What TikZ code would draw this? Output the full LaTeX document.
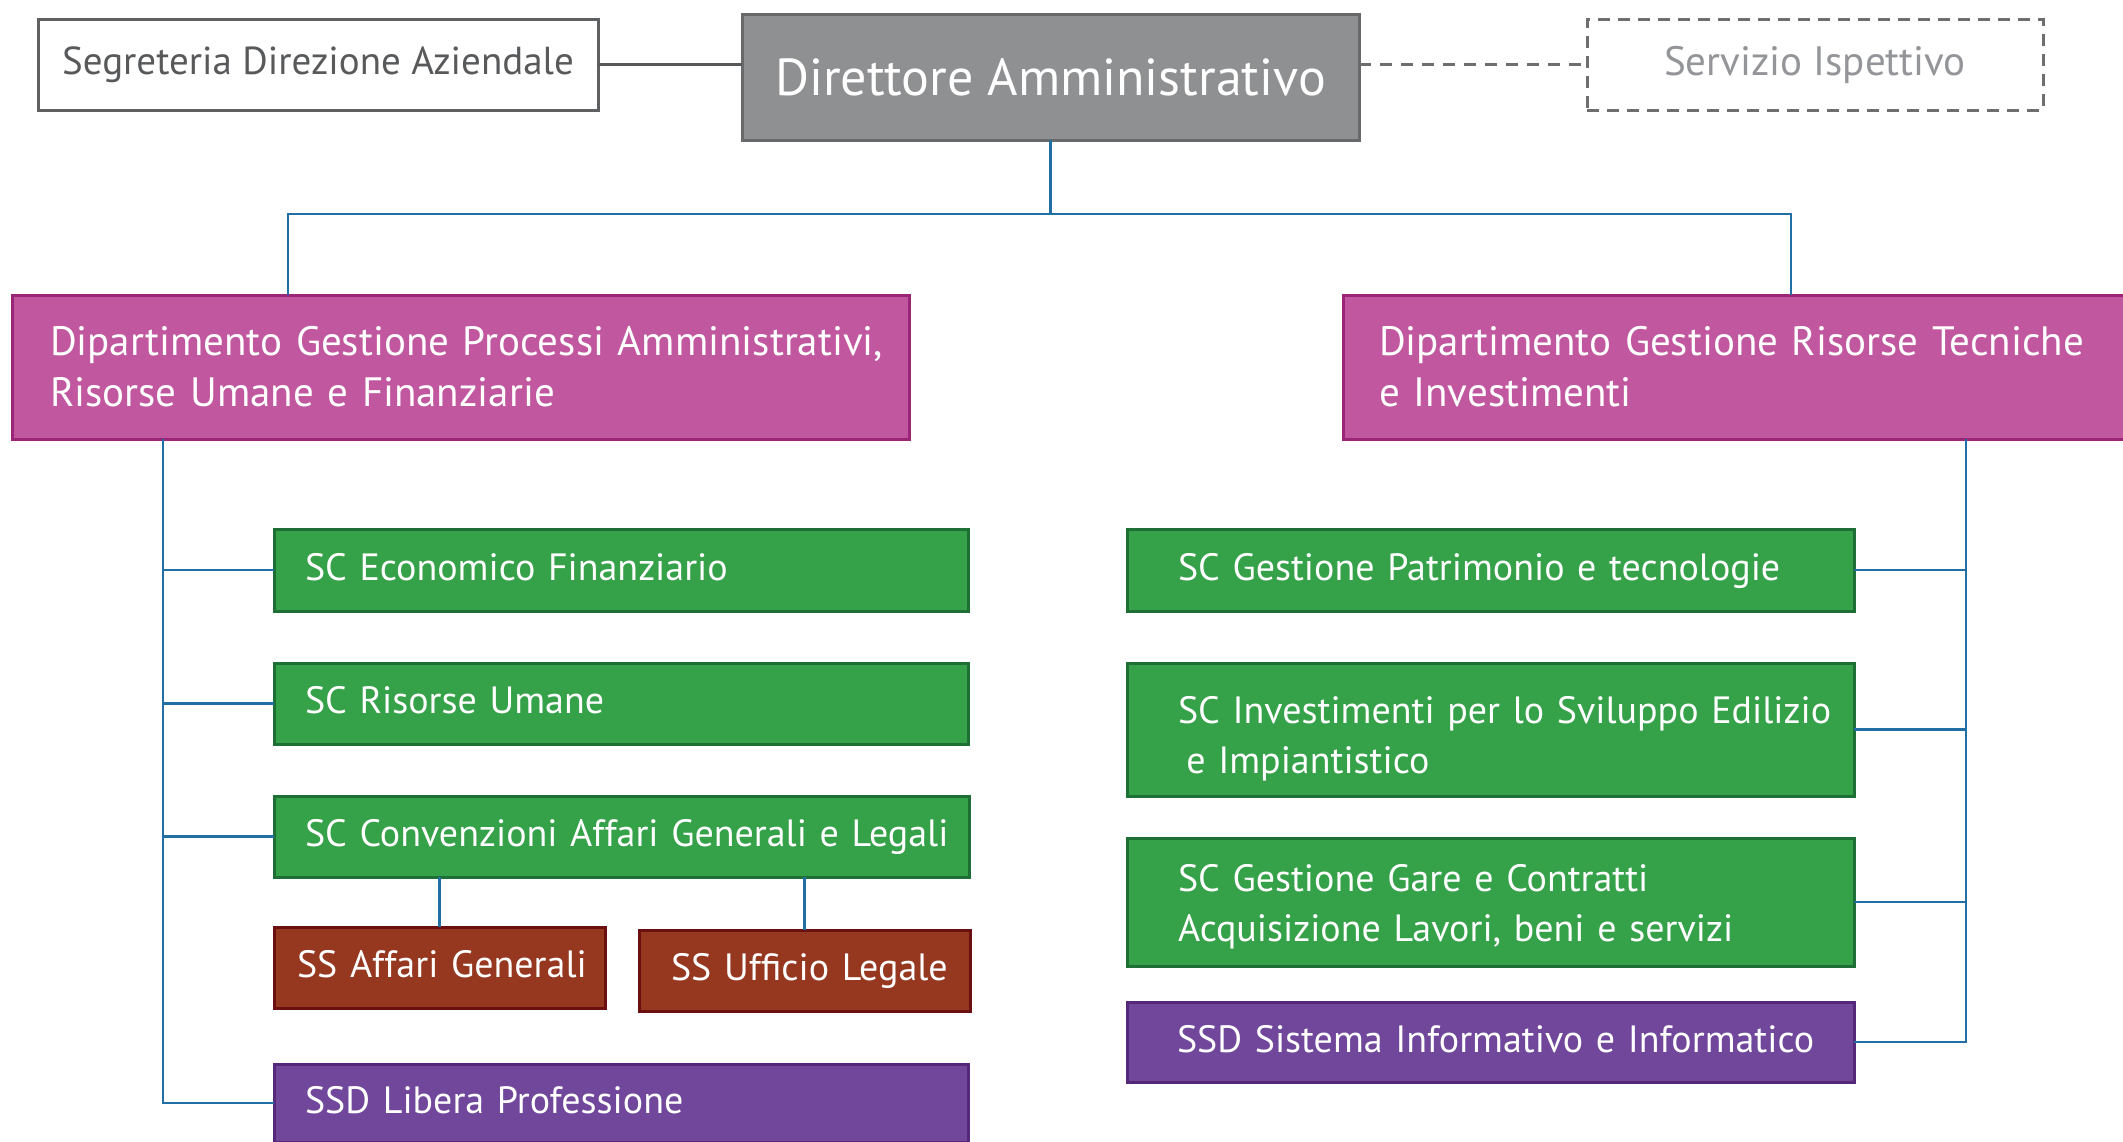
\documentclass[tikz,border=0pt]{standalone}
\usepackage{fontspec}
\setmainfont{PT Sans}
\definecolor{dirfill}{HTML}{8F9092}
\definecolor{dirborder}{HTML}{68696B}
\definecolor{segborder}{HTML}{5F6062}
\definecolor{segtext}{HTML}{58595B}
\definecolor{servborder}{HTML}{6D6E70}
\definecolor{servtext}{HTML}{939598}
\definecolor{deptfill}{HTML}{C0579F}
\definecolor{deptborder}{HTML}{9B2577}
\definecolor{greenfill}{HTML}{35A148}
\definecolor{greenborder}{HTML}{1E6F36}
\definecolor{brownfill}{HTML}{963720}
\definecolor{brownborder}{HTML}{6B1010}
\definecolor{purplefill}{HTML}{70479A}
\definecolor{purpleborder}{HTML}{55287A}
\definecolor{connblue}{HTML}{2270A3}
\definecolor{grayline}{HTML}{58595B}
\newcommand{\orgbox}[8]{%
  \pgfmathsetmacro\bw{#5-#3}\pgfmathsetmacro\bh{#6-#4}\pgfmathsetmacro\tw{\bw-4}%
  \node[#2, anchor=north west, minimum width=\bw pt, minimum height=\bh pt,
        inner xsep=2pt, inner ysep=0pt, text width=\tw pt, align=left] (#1) at (#3,#4)
        {\hspace*{#7pt}\begin{tabular}{@{}l@{}}#8\end{tabular}};%
}
\begin{document}
\begin{tikzpicture}[x=1pt,y=-1pt,
  base/.style={rectangle, line width=3pt, outer sep=0pt},
  bodytext/.style={font=\fontsize{38}{50}\selectfont, text=white},
  depttext/.style={font=\fontsize{41}{51}\selectfont, text=white},
  seg/.style={base, draw=segborder, fill=white, text=segtext, align=center, font=\fontsize{39}{46}\selectfont},
  dirbox/.style={base, draw=dirborder, fill=dirfill, text=white, align=center, font=\fontsize{52}{60}\selectfont},
  serv/.style={base, draw=servborder, dash pattern=on 12pt off 8pt, fill=white, text=servtext, align=center, font=\fontsize{41}{48}\selectfont},
  dept/.style={base, depttext, draw=deptborder, fill=deptfill},
  green/.style={base, bodytext, draw=greenborder, fill=greenfill},
  brown/.style={base, bodytext, draw=brownborder, fill=brownfill},
  purple/.style={base, bodytext, draw=purpleborder, fill=purplefill},
  conn/.style={draw=connblue, line width=2.6pt},
  grayconn/.style={draw=grayline, line width=3pt},
  dashconn/.style={draw=servborder, line width=3pt, dash pattern=on 12pt off 9pt}
]
\clip (0,0) rectangle (2123,1141);
\useasboundingbox (0,0) rectangle (2123,1141);
\fill[white] (0,0) rectangle (2123,1141);

% top row
\node[seg, anchor=north west, minimum width=560pt, minimum height=91pt, inner sep=0pt] (segr) at (38,19) {Segreteria Direzione Aziendale};
\node[dirbox, anchor=north west, minimum width=617pt, minimum height=126pt, inner sep=0pt] (dir) at (742,14) {Direttore Amministrativo};
\node[serv, anchor=north west, minimum width=456pt, minimum height=91pt, inner sep=0pt] (serv) at (1587,19) {Servizio Ispettivo};

% departments
\orgbox{dl}{dept}{12}{295}{909}{439}{36}{\rule{0pt}{44pt}Dipartimento Gestione Processi Amministrativi,\\Risorse Umane e Finanziarie}
\orgbox{dr}{dept}{1343}{295}{2160}{439}{34}{\rule{0pt}{44pt}Dipartimento Gestione Risorse Tecniche\\e Investimenti}

% left units
\orgbox{sce}{green}{274}{529}{968}{611}{29}{SC Economico Finanziario}
\orgbox{scr}{green}{274}{663}{968}{744}{29}{SC Risorse Umane}
\orgbox{scc}{green}{274}{796}{969}{877}{29}{SC Convenzioni Affari Generali e Legali}
\orgbox{ssa}{brown}{274}{927}{605}{1008}{21}{SS Affari Generali}
\orgbox{ssu}{brown}{639}{930}{970}{1011}{30}{SS Ufficio Legale}
\orgbox{ssdl}{purple}{274}{1064}{968}{1142}{29}{SSD Libera Professione}

% right units
\orgbox{scp}{green}{1127}{529}{1854}{611}{49}{SC Gestione Patrimonio e tecnologie}
\orgbox{sci}{green}{1127}{663}{1854}{796}{49}{\rule{0pt}{52pt}SC Investimenti per lo Sviluppo Edilizio\\\hspace*{0.22em}e Impiantistico}
\orgbox{scg}{green}{1127}{838}{1854}{966}{49}{\rule{0pt}{44pt}SC Gestione Gare e Contratti\\Acquisizione Lavori, beni e servizi}
\orgbox{ssds}{purple}{1127}{1002}{1854}{1082}{48}{SSD Sistema Informativo e Informatico}

% coordinates for connector bends
\coordinate (jl) at (288,214);
\coordinate (jr) at (1791,214);
\coordinate (lt) at (163,0);
\coordinate (rt) at (1966,0);

% top connectors
\draw[grayconn] (segr.east) -- (segr.east -| dir.west);
\draw[dashconn] (serv.west -| dir.east) -- (serv.west);
\draw[conn] (dir.south) -- (dir.south |- jl);
\draw[conn] (dl.north -| jl) -- (jl) -- (jr) -- (dr.north -| jr);

% left trunk
\draw[conn] (dl.south -| lt) -- (lt |- ssdl.west) -- (ssdl.west);
\draw[conn] (lt |- sce.west) -- (sce.west);
\draw[conn] (lt |- scr.west) -- (scr.west);
\draw[conn] (lt |- scc.west) -- (scc.west);
\draw[conn] (ssa.north) -- (ssa.north |- scc.south);
\draw[conn] (ssu.north) -- (ssu.north |- scc.south);

% right trunk
\draw[conn] (dr.south -| rt) -- (rt |- ssds.east) -- (ssds.east);
\draw[conn] (rt |- scp.east) -- (scp.east);
\draw[conn] (rt |- sci.east) -- (sci.east);
\draw[conn] (rt |- scg.east) -- (scg.east);
\end{tikzpicture}
\end{document}
